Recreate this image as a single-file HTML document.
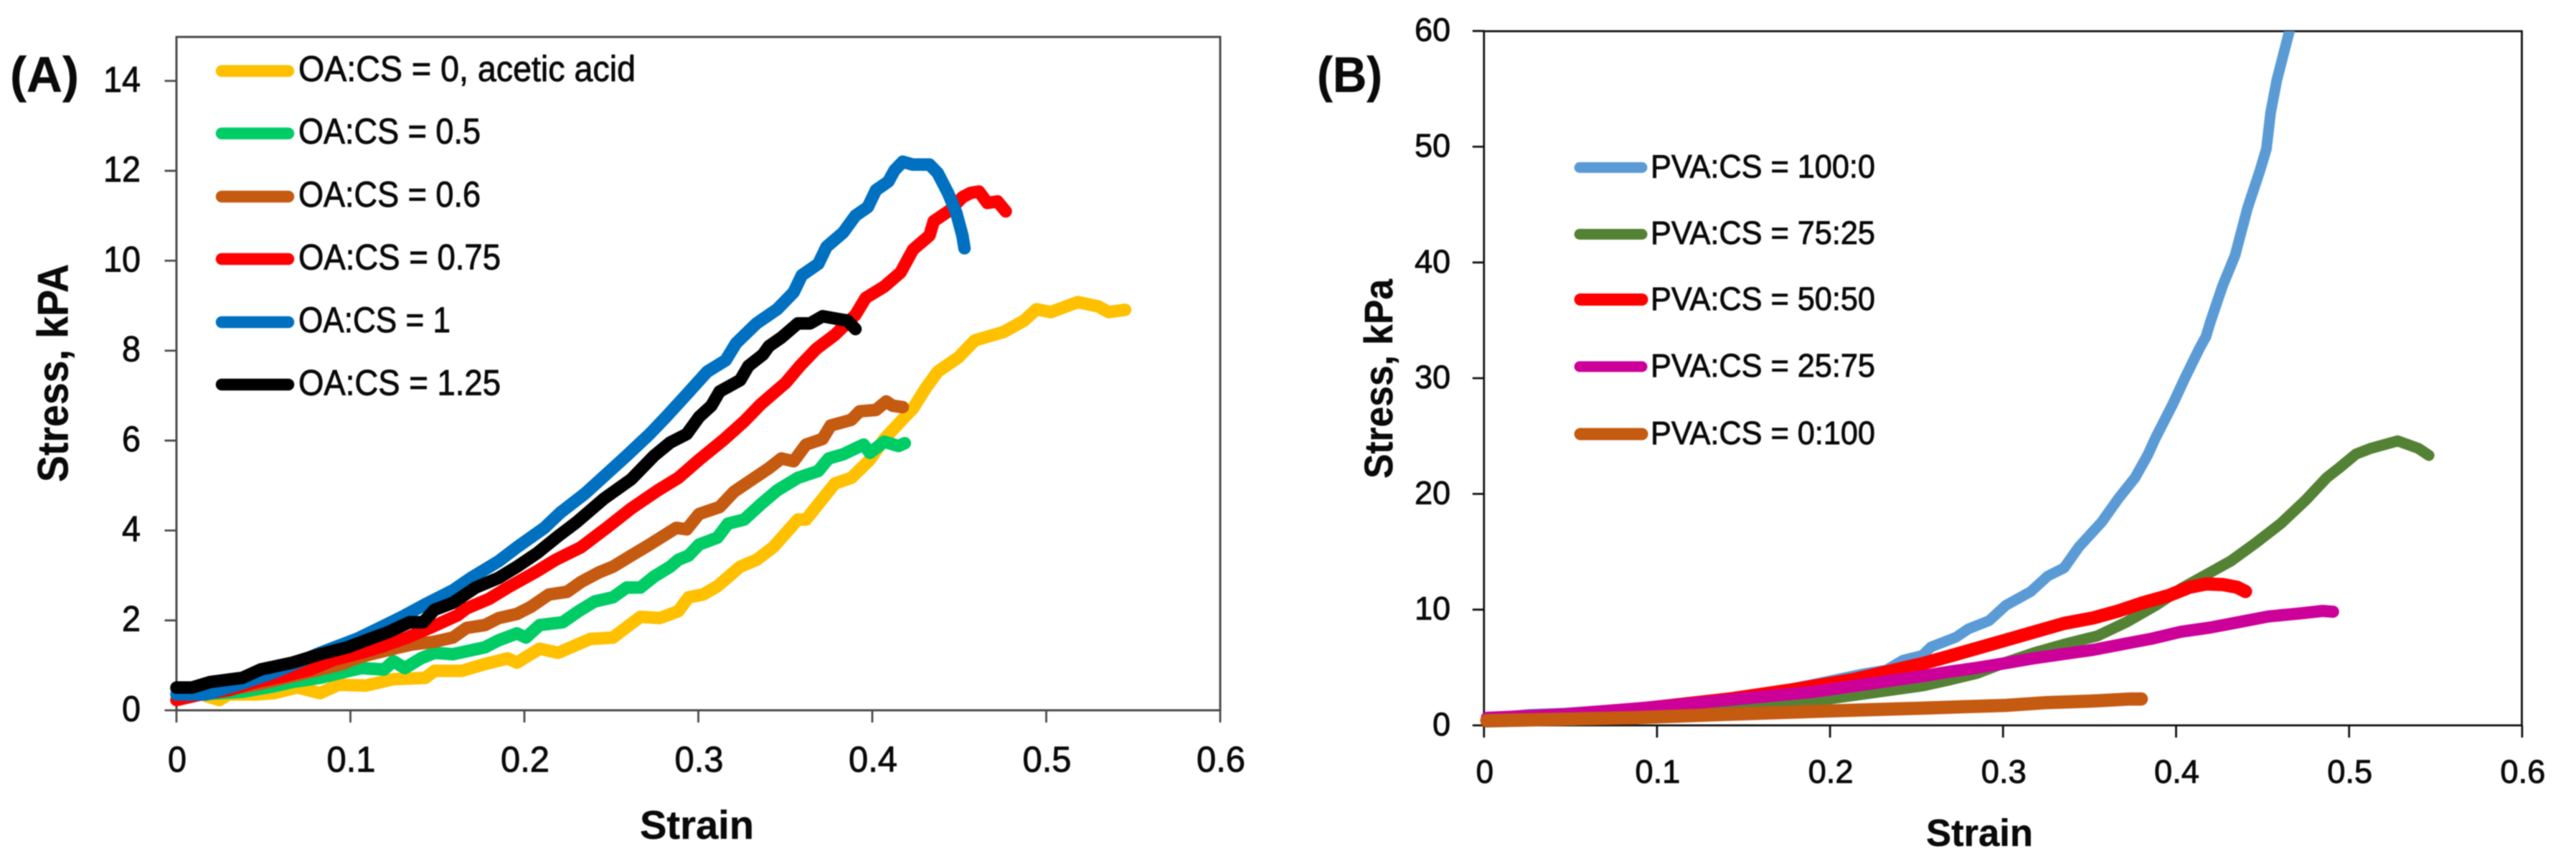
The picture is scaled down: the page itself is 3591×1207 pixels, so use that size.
<!DOCTYPE html>
<html lang="en">
<head>
<meta charset="utf-8">
<title>Stress-strain curves</title>
<style>
html,body{margin:0;padding:0;background:#fff;}
svg{display:block;filter:blur(.7px);}
text{font-family:"Liberation Sans",sans-serif;fill:#0a0a0a;stroke:#0a0a0a;stroke-width:.9px;}
.title{font-weight:700;stroke-width:.4px;}
</style>
</head>
<body>
<svg id="figure" xmlns="http://www.w3.org/2000/svg" width="3591" height="1207" viewBox="0 0 3591 1207">
  <defs>
    <clipPath id="clipB"><rect x="2040" y="43.5" width="1500" height="1040"/></clipPath>
  </defs>
  <rect width="3591" height="1207" fill="#fff"/>

  <g id="panelA">
    <rect x="246" y="51.5" width="1455" height="938.5" fill="none" stroke="#4a4a4a" stroke-width="3"/>
    <g id="axesA"></g>
    <g id="seriesA"></g>
  </g>
  <g id="panelB">
    <rect x="2068.7" y="43.5" width="1446.8" height="967.5" fill="none" stroke="#111" stroke-width="2.8"/>
    <g id="axesB"></g>
    <g id="seriesB" clip-path="url(#clipB)"></g>
  </g>

  <text class="title" x="14" y="128" font-size="70" textLength="96" lengthAdjust="spacingAndGlyphs">(A)</text>
  <text class="title" x="1836" y="128" font-size="70" textLength="91" lengthAdjust="spacingAndGlyphs">(B)</text>

  <text class="title" x="892" y="1169" font-size="56" textLength="159" lengthAdjust="spacingAndGlyphs">Strain</text>
  <text class="title" x="2685" y="1179" font-size="53" textLength="149" lengthAdjust="spacingAndGlyphs">Strain</text>
  <text class="title" transform="translate(94.5,672) rotate(-90)" font-size="60" textLength="304" lengthAdjust="spacingAndGlyphs">Stress, kPA</text>
  <text class="title" transform="translate(1941,667) rotate(-90)" font-size="56" textLength="278" lengthAdjust="spacingAndGlyphs">Stress, kPa</text>

  <g stroke-linecap="round" stroke-width="16.5">
    <g><line x1="309" x2="402" y1="99" y2="99" stroke="#FFC000"/><text x="416" y="113" font-size="50" textLength="470" lengthAdjust="spacingAndGlyphs">OA:CS = 0, acetic acid</text></g>
    <g><line x1="309" x2="402" y1="186" y2="186" stroke="#00CC66"/><text x="416" y="200" font-size="50" textLength="254" lengthAdjust="spacingAndGlyphs">OA:CS = 0.5</text></g>
    <g><line x1="309" x2="402" y1="274" y2="274" stroke="#C55A11"/><text x="416" y="288" font-size="50" textLength="254" lengthAdjust="spacingAndGlyphs">OA:CS = 0.6</text></g>
    <g><line x1="309" x2="402" y1="361" y2="361" stroke="#FF0000"/><text x="416" y="375.5" font-size="50" textLength="282" lengthAdjust="spacingAndGlyphs">OA:CS = 0.75</text></g>
    <g><line x1="309" x2="402" y1="449" y2="449" stroke="#0070C0"/><text x="416" y="463" font-size="50" textLength="212" lengthAdjust="spacingAndGlyphs">OA:CS = 1</text></g>
    <g><line x1="309" x2="402" y1="536" y2="536" stroke="#000000"/><text x="416" y="550.5" font-size="50" textLength="282" lengthAdjust="spacingAndGlyphs">OA:CS = 1.25</text></g>
  </g>

  <g stroke-linecap="round" stroke-width="15">
    <g><line x1="2202" x2="2289" y1="233.5" y2="233.5" stroke="#5B9BD5"/><text x="2301" y="247.5" font-size="45" textLength="313" lengthAdjust="spacingAndGlyphs">PVA:CS = 100:0</text></g>
    <g><line x1="2202" x2="2289" y1="326.5" y2="326.5" stroke="#548235"/><text x="2301" y="340" font-size="45" textLength="313" lengthAdjust="spacingAndGlyphs">PVA:CS = 75:25</text></g>
    <g><line x1="2203" x2="2289" y1="417.5" y2="417.5" stroke="#FF0000" stroke-width="17"/><text x="2301" y="432" font-size="45" textLength="313" lengthAdjust="spacingAndGlyphs">PVA:CS = 50:50</text></g>
    <g><line x1="2202" x2="2289" y1="511" y2="511" stroke="#CC0099"/><text x="2301" y="525" font-size="45" textLength="313" lengthAdjust="spacingAndGlyphs">PVA:CS = 25:75</text></g>
    <g><line x1="2203" x2="2289" y1="605" y2="605" stroke="#C55A11" stroke-width="17"/><text x="2301" y="619" font-size="45" textLength="313" lengthAdjust="spacingAndGlyphs">PVA:CS = 0:100</text></g>
  </g>
</svg>

<script>
// Panel A tick labels
const ticksAX = ["0","0.1","0.2","0.3","0.4","0.5","0.6"];
const ticksAY = ["0","2","4","6","8","10","12","14"];
// Panel B tick labels
const ticksBX = ["0","0.1","0.2","0.3","0.4","0.5","0.6"];
const ticksBY = ["0","10","20","30","40","50","60"];

// Panel A series: [strain, stress kPa]
const oaCs0 = [[.0168,.321],[.0247,.229],[.03,.352],[.0458,.352],[.0563,.383],[.0694,.506],[.0826,.383],[.0931,.568],[.1089,.55],[.1247,.692],[.1431,.723],[.1483,.877],[.1641,.877],[.1773,1.03],[.1904,1.155],[.1957,1.062],[.2088,1.371],[.2194,1.279],[.2378,1.587],[.2509,1.618],[.2667,2.08],[.2779,2.05],[.2885,2.205],[.2944,2.514],[.3027,2.576],[.311,2.761],[.324,3.193],[.3335,3.348],[.343,3.626],[.3572,4.243],[.3619,4.243],[.3785,5.046],[.388,5.17],[.3986,5.571],[.4069,6.035],[.4187,6.524],[.4234,6.713],[.4305,7.155],[.4376,7.533],[.4495,7.849],[.4589,8.227],[.4755,8.416],[.4873,8.669],[.4944,8.921],[.5027,8.858],[.5181,9.079],[.5299,8.984],[.5359,8.858],[.5453,8.909]];
const oaCs05 = [[0,.476],[.0142,.352],[.0379,.414],[.0563,.537],[.0668,.63],[.0826,.723],[.0957,.846],[.1063,.939],[.1194,.908],[.1247,1.093],[.1312,.939],[.1405,1.155],[.1483,1.279],[.1589,1.248],[.1773,1.402],[.1852,1.557],[.1957,1.711],[.2009,1.618],[.2088,1.896],[.222,1.958],[.2312,2.205],[.2404,2.421],[.2509,2.514],[.2588,2.73],[.2667,2.73],[.2746,2.977],[.2838,3.193],[.2885,3.348],[.2944,3.44],[.3004,3.687],[.311,3.842],[.317,4.151],[.3264,4.243],[.3359,4.583],[.3453,4.892],[.3572,5.17],[.369,5.324],[.3749,5.602],[.3832,5.695],[.395,5.911],[.3986,5.726],[.4069,5.973],[.4151,5.88],[.4187,5.942]];
const oaCs06 = [[.0168,.383],[.0458,.568],[.0563,.661],[.0694,.784],[.0826,.908],[.0957,1.031],[.101,1.124],[.1089,1.217],[.1247,1.371],[.1352,1.464],[.1483,1.526],[.1589,1.618],[.1668,1.834],[.1773,1.896],[.1852,2.051],[.1957,2.143],[.2036,2.298],[.2141,2.576],[.2246,2.637],[.2325,2.854],[.243,3.07],[.2509,3.193],[.2614,3.44],[.272,3.687],[.2873,4.058],[.2933,4.027],[.3004,4.367],[.3122,4.521],[.3205,4.861],[.3311,5.139],[.3406,5.386],[.3477,5.602],[.3548,5.54],[.3619,5.911],[.3714,6.035],[.3761,6.334],[.3879,6.461],[.3927,6.65],[.4021,6.681],[.408,6.871],[.4116,6.776],[.4175,6.744]];
const oaCs075 = [[0,.229],[.0142,.352],[.03,.445],[.0458,.63],[.0615,.754],[.0773,.908],[.0905,1.124],[.1063,1.279],[.1194,1.433],[.1326,1.618],[.1457,1.834],[.1615,2.112],[.1668,2.267],[.1799,2.483],[.1904,2.73],[.2062,3.07],[.218,3.348],[.2325,3.626],[.2483,4.089],[.2614,4.49],[.2767,4.892],[.2885,5.17],[.3004,5.571],[.3146,6.019],[.3264,6.429],[.3359,6.808],[.3501,7.281],[.3584,7.659],[.3678,8.038],[.3785,8.353],[.3903,8.795],[.3962,9.174],[.4069,9.426],[.4163,9.741],[.4234,10.246],[.4329,10.562],[.4353,10.877],[.4448,11.129],[.4518,11.413],[.4565,11.508],[.4613,11.539],[.4661,11.287],[.472,11.319],[.4767,11.098]];
const oaCs1 = [[0,.352],[.0168,.352],[.0379,.6],[.0563,.846],[.0826,1.279],[.1036,1.587],[.1168,1.834],[.1299,2.082],[.1431,2.359],[.1589,2.668],[.1694,2.946],[.1852,3.317],[.1957,3.626],[.2115,4.058],[.2207,4.398],[.2351,4.83],[.2483,5.293],[.2588,5.664],[.272,6.145],[.2814,6.524],[.2933,7.028],[.3051,7.533],[.3157,7.785],[.3217,8.164],[.3335,8.606],[.3453,8.921],[.3548,9.3],[.3595,9.678],[.369,9.931],[.3737,10.309],[.3832,10.625],[.3903,11.003],[.3974,11.192],[.4021,11.571],[.4092,11.76],[.4128,12.013],[.4175,12.202],[.4234,12.139],[.4329,12.139],[.4376,11.95],[.4435,11.508],[.4483,11.066],[.4518,10.562],[.453,10.278]];
const oaCs125 = [[0,.506],[.0089,.506],[.0195,.63],[.0379,.723],[.0484,.908],[.0668,1.062],[.0826,1.248],[.0984,1.402],[.1089,1.557],[.122,1.742],[.1339,1.958],[.1418,1.958],[.1483,2.236],[.1589,2.39],[.172,2.73],[.1852,2.946],[.1957,3.193],[.2075,3.502],[.2194,3.873],[.2299,4.182],[.2457,4.707],[.2614,5.139],[.2746,5.664],[.2838,5.956],[.2933,6.145],[.3004,6.524],[.3075,6.776],[.3122,7.091],[.3241,7.344],[.3288,7.659],[.3371,7.912],[.3406,8.101],[.3477,8.29],[.3572,8.606],[.3643,8.606],[.3714,8.764],[.3809,8.7],[.3856,8.669],[.3903,8.48]];

// Panel B series: [strain, stress kPa]
const pva100 = [[.0017,.58],[.0255,.94],[.0469,1.06],[.0707,1.3],[.0945,1.54],[.1183,1.9],[.1421,2.26],[.1659,2.81],[.1897,3.53],[.2182,4.42],[.2325,4.78],[.242,5.62],[.2534,6.05],[.2583,6.77],[.2727,7.61],[.2799,8.33],[.292,9.05],[.3016,10.37],[.3161,11.57],[.3257,12.89],[.3353,13.61],[.3438,15.41],[.357,17.57],[.3667,19.61],[.3763,21.41],[.3835,23.33],[.3883,24.9],[.398,27.73],[.4052,30.04],[.4136,32.6],[.4173,33.6],[.4197,34.8],[.4269,38],[.4341,40.6],[.4413,44.7],[.4486,48],[.4522,49.8],[.4546,52.9],[.4582,55.75],[.4655,59.99],[.4679,61.7]];
const pva75 = [[.0017,.29],[.0707,.53],[.1183,1.0],[.154,1.61],[.1897,2.09],[.2135,2.57],[.2534,3.41],[.2679,3.89],[.2848,4.49],[.3016,5.45],[.3184,6.29],[.3353,7.01],[.3546,7.73],[.3714,8.93],[.3883,10.37],[.4028,11.81],[.4173,13.01],[.4317,14.21],[.4461,15.77],[.4606,17.45],[.4751,19.49],[.4871,21.41],[.4943,22.25],[.504,23.45],[.5124,23.93],[.5281,24.58],[.5401,23.93],[.5461,23.33]];
const pva50 = [[.0017,.41],[.0469,.77],[.0945,1.49],[.1421,2.28],[.1778,3.07],[.2135,3.96],[.2534,5.33],[.2679,5.93],[.2848,6.65],[.3016,7.37],[.3184,8.09],[.3353,8.81],[.3522,9.29],[.3667,9.89],[.3811,10.61],[.3956,11.21],[.4076,11.93],[.4173,12.22],[.4269,12.17],[.4354,11.93],[.4401,11.57]];
const pva25 = [[.0017,.65],[.0469,.96],[.0945,1.54],[.1421,2.21],[.1897,2.88],[.2534,4.25],[.2679,4.61],[.2848,4.97],[.3016,5.38],[.3184,5.81],[.3353,6.17],[.3522,6.53],[.369,7.01],[.3859,7.49],[.4028,8.09],[.4197,8.45],[.4365,8.93],[.4534,9.41],[.4702,9.65],[.4847,9.89],[.4907,9.82]];
const pva0 = [[.0017,.41],[.085,.65],[.1421,.96],[.1897,1.2],[.2534,1.49],[.2775,1.61],[.3016,1.73],[.3257,1.97],[.3498,2.09],[.3739,2.28],[.3799,2.28]];

const SVGNS = "http://www.w3.org/2000/svg";

// Axis functions
function xA(v){ return 246 + v * 2425; }
function yA(v){ return 990 - v * 62.66; }
function xB(v){ return 2068.7 + v * 2412; }
function yB(v){ return 1011 - v * 16.13; }

function labelWidth(label, digitW, dotW){
  let w = 0;
  for (const c of label) { w += (c === "." ? dotW : digitW); }
  return w;
}

function addTickLine(parent, x1, y1, x2, y2, color, name){
  const el = document.createElementNS(SVGNS, "line");
  el.setAttribute("x1", x1);
  el.setAttribute("y1", y1);
  el.setAttribute("x2", x2);
  el.setAttribute("y2", y2);
  el.setAttribute("stroke", color);
  el.setAttribute("stroke-width", "2.8");
  
  
  parent.appendChild(el);
}

function addTickLabel(parent, str, x, y, size, anchor, width, name){
  const el = document.createElementNS(SVGNS, "text");
  el.setAttribute("x", x);
  el.setAttribute("y", y);
  el.setAttribute("font-size", size);
  el.setAttribute("text-anchor", anchor);
  el.setAttribute("textLength", width);
  el.setAttribute("lengthAdjust", "spacingAndGlyphs");
  
  
  el.textContent = str;
  parent.appendChild(el);
}

function drawSeries(parent, data, xf, yf, color, width, name){
  let d = "";
  data.forEach(function(p, i){
    d += (i ? "L" : "M") + xf(p[0]).toFixed(1) + " " + yf(p[1]).toFixed(1);
  });
  const el = document.createElementNS(SVGNS, "path");
  el.setAttribute("d", d);
  el.setAttribute("fill", "none");
  el.setAttribute("stroke", color);
  el.setAttribute("stroke-width", width);
  el.setAttribute("stroke-linecap", "round");
  el.setAttribute("stroke-linejoin", "round");
  
  
  parent.appendChild(el);
}

// Panel A axes
const axesA = document.getElementById("axesA");
ticksAX.forEach(function(t){
  const v = parseFloat(t);
  addTickLine(axesA, xA(v), 990, xA(v), 1007, "#4a4a4a", "panel-a-x-tick");
  addTickLabel(axesA, t, xA(v) + 1, 1075.5, 50, "middle", labelWidth(t, 26, 16), "panel-a-x-tick-label");
});
ticksAY.forEach(function(t){
  const v = parseFloat(t);
  addTickLine(axesA, 229.5, yA(v), 246, yA(v), "#4a4a4a", "panel-a-y-tick");
  addTickLabel(axesA, t, 196, yA(v) + 15, 50, "end", labelWidth(t, 26, 16), "panel-a-y-tick-label");
});

// Panel B axes
const axesB = document.getElementById("axesB");
ticksBX.forEach(function(t){
  const v = parseFloat(t);
  addTickLine(axesB, xB(v), 1011, xB(v), 1028, "#111", "panel-b-x-tick");
  addTickLabel(axesB, t, xB(v) + 1, 1091, 45, "middle", labelWidth(t, 24.5, 14), "panel-b-x-tick-label");
});
ticksBY.forEach(function(t){
  const v = parseFloat(t);
  addTickLine(axesB, 2052.7, yB(v), 2068.7, yB(v), "#111", "panel-b-y-tick");
  addTickLabel(axesB, t, 2022, yB(v) + 14, 45, "end", labelWidth(t, 25, 14), "panel-b-y-tick-label");
});

// Panel A series
const seriesA = document.getElementById("seriesA");
drawSeries(seriesA, oaCs0, xA, yA, "#FFC000", 17.5, "series-oa-cs-0");
drawSeries(seriesA, oaCs05, xA, yA, "#00CC66", 17.5, "series-oa-cs-0.5");
drawSeries(seriesA, oaCs06, xA, yA, "#C55A11", 17.5, "series-oa-cs-0.6");
drawSeries(seriesA, oaCs075, xA, yA, "#FF0000", 17.5, "series-oa-cs-0.75");
drawSeries(seriesA, oaCs1, xA, yA, "#0070C0", 17.5, "series-oa-cs-1");
drawSeries(seriesA, oaCs125, xA, yA, "#000000", 17.5, "series-oa-cs-1.25");

// Panel B series
const seriesB = document.getElementById("seriesB");
drawSeries(seriesB, pva100, xB, yB, "#5B9BD5", 15, "series-pva-cs-100-0");
drawSeries(seriesB, pva75, xB, yB, "#548235", 15.5, "series-pva-cs-75-25");
drawSeries(seriesB, pva50, xB, yB, "#FF0000", 18.5, "series-pva-cs-50-50");
drawSeries(seriesB, pva25, xB, yB, "#CC0099", 17, "series-pva-cs-25-75");
drawSeries(seriesB, pva0, xB, yB, "#C55A11", 18.5, "series-pva-cs-0-100");
</script>
</body>
</html>
